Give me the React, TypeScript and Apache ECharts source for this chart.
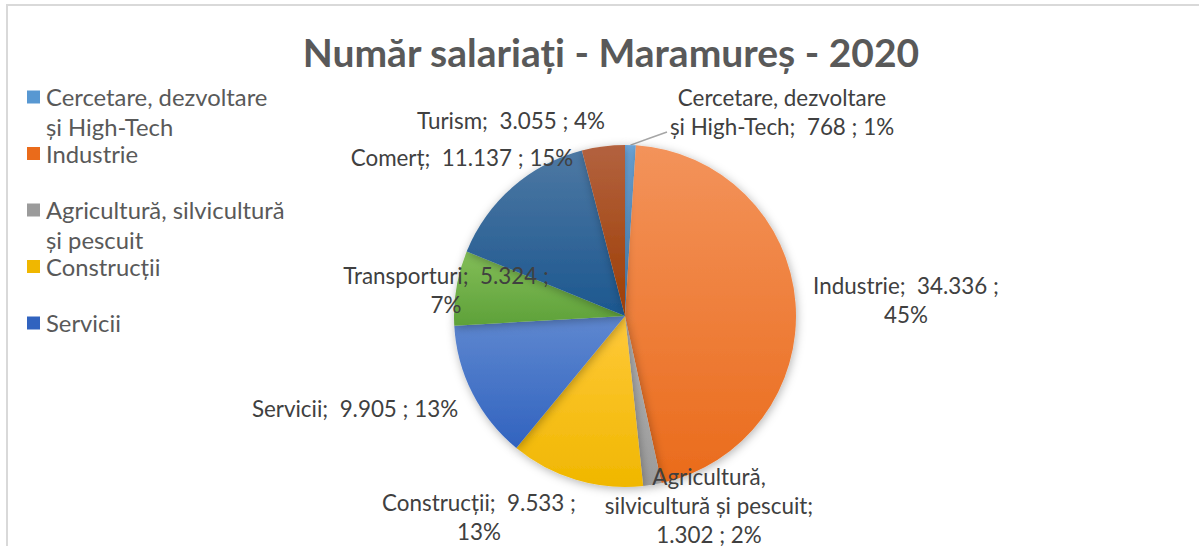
import React, { useEffect, useRef } from "react";
import * as echarts from "echarts";

// ---- data ----
const categories = [
  "Cercetare, dezvoltare și High-Tech",
  "Industrie",
  "Agricultură, silvicultură și pescuit",
  "Construcții",
  "Servicii",
  "Transporturi",
  "Comerț",
  "Turism",
];
const values = [768, 34336, 1302, 9533, 9905, 5324, 11137, 3055];
const percents = [1, 45, 2, 13, 13, 7, 15, 4];
const legendShown = 5;
const titleText = "Număr salariați - Maramureș - 2020";

// ---- text layout (line breaks as in the reference) ----
const legendLines = [
  "Cercetare, dezvoltare\nși High-Tech",
  "Industrie",
  "Agricultură, silvicultură\nși pescuit",
  "Construcții",
  "Servicii",
];
const labelNames = [
  "Cercetare, dezvoltare\nși High-Tech",
  "Industrie",
  "Agricultură,\nsilvicultură și pescuit",
  "Construcții",
  "Servicii",
  "Transporturi",
  "Comerț",
  "Turism",
];
// where the label breaks: "pct" = before percent, "value" = before value, "none"
const labelWrap = ["none", "pct", "value", "pct", "none", "pct", "none", "none"];
// label block centers
const labelPos: [number, number][] = [
  [782, 112],
  [906, 300],
  [709, 505],
  [479, 517],
  [355, 408],
  [446, 290],
  [462, 157],
  [511, 120],
];

// ---- styles ----
const lightColors = ["#6ea9de", "#f3935b", "#b3b3b3", "#ffc93a", "#5f88d0", "#83be58", "#4d78a3", "#b3623f"];
const darkColors = ["#5898d2", "#ea6b1b", "#9b9b9b", "#f0b700", "#3163bf", "#5ea139", "#1c578f", "#9d3e04"];

function fmt(v: number): string {
  return String(v).replace(/\B(?=(\d{3})+(?!\d))/g, ".");
}

function labelText(i: number): string {
  const n = labelNames[i];
  const v = fmt(values[i]);
  const p = percents[i] + "%";
  if (labelWrap[i] === "pct") return `${n};  ${v} ;\n${p}`;
  if (labelWrap[i] === "value") return `${n};\n${v} ; ${p}`;
  return `${n};  ${v} ; ${p}`;
}

const FONT = "Lato, 'Open Sans', sans-serif";

export default function App() {
  const ref = useRef<HTMLDivElement>(null);
  useEffect(() => {
    if (!ref.current) return;
    const chart = echarts.init(ref.current, undefined, { renderer: "svg" });

    const legendEls: any[] = [];
    for (let i = 0; i < legendShown; i++) {
      const cy = 97 + i * 56.5;
      legendEls.push({
        type: "rect",
        shape: { x: 27, y: cy - 6.5, width: 13, height: 13 },
        style: { fill: darkColors[i] },
      });
      legendEls.push({
        type: "text",
        x: 46,
        y: cy - 15,
        style: {
          text: legendLines[i],
          fill: "#595959",
          font: `23.8px ${FONT}`,
          lineHeight: 30,
          verticalAlign: "top",
          align: "left",
        },
      });
    }

    const option: any = {
      animation: false,
      backgroundColor: "#ffffff",
      title: {
        text: titleText,
        left: 606,
        top: 27,
        textAlign: "center",
        textStyle: {
          fontFamily: FONT,
          fontWeight: "bold",
          fontSize: 39,
          color: "#595959",
        },
      },
      graphic: {
        elements: [
          {
            type: "rect",
            z: -10,
            shape: { x: 7, y: 5, width: 1400, height: 1000 },
            style: { fill: "none", stroke: "#d9d9d9", lineWidth: 2 },
          },
          ...legendEls,
        ],
      },
      series: [
        {
          type: "pie",
          center: [625, 316],
          radius: 171,
          startAngle: 90,
          clockwise: true,
          data: categories.map((name, i) => ({
            name,
            value: values[i],
            itemStyle: {
              color: {
                type: "linear",
                x: 0,
                y: 0,
                x2: 0,
                y2: 1,
                colorStops: [
                  { offset: 0, color: lightColors[i] },
                  { offset: 1, color: darkColors[i] },
                ],
              },
            },
            labelLine: { show: i === 0 },
          })),
          itemStyle: {
            borderWidth: 0,
            shadowBlur: 10,
            shadowColor: "rgba(0,0,0,0.3)",
            shadowOffsetX: 1,
            shadowOffsetY: 2,
          },
          label: {
            show: true,
            position: "outside",
            formatter: (p: any) => labelText(p.dataIndex),
            fontFamily: FONT,
            fontSize: 22.4,
            lineHeight: 29,
            color: "#404040",
            align: "center",
          },
          labelLine: {
            show: false,
            length: 10,
            length2: 10,
            lineStyle: { color: "#a6a6a6", width: 1.5 },
          },
          labelLayout: (params: any) => {
            const i = params.dataIndex;
            const p = labelPos[i];
            const res: any = { x: p[0], y: p[1], align: "center", verticalAlign: "middle" };
            if (i === 0 && params.labelLinePoints && params.labelLinePoints[0]) {
              const s = params.labelLinePoints[0];
              const e = [p[0] - 115, p[1] + 20];
              res.labelLinePoints = [s, [(s[0] + e[0]) / 2, (s[1] + e[1]) / 2], e];
            }
            return res;
          },
          emphasis: { disabled: true },
        },
      ],
    };
    chart.setOption(option);
    return () => chart.dispose();
  }, []);

  return (
    <div
      ref={ref}
      style={{ position: "fixed", left: 0, top: 0, width: 1199, height: 546 }}
    />
  );
}
